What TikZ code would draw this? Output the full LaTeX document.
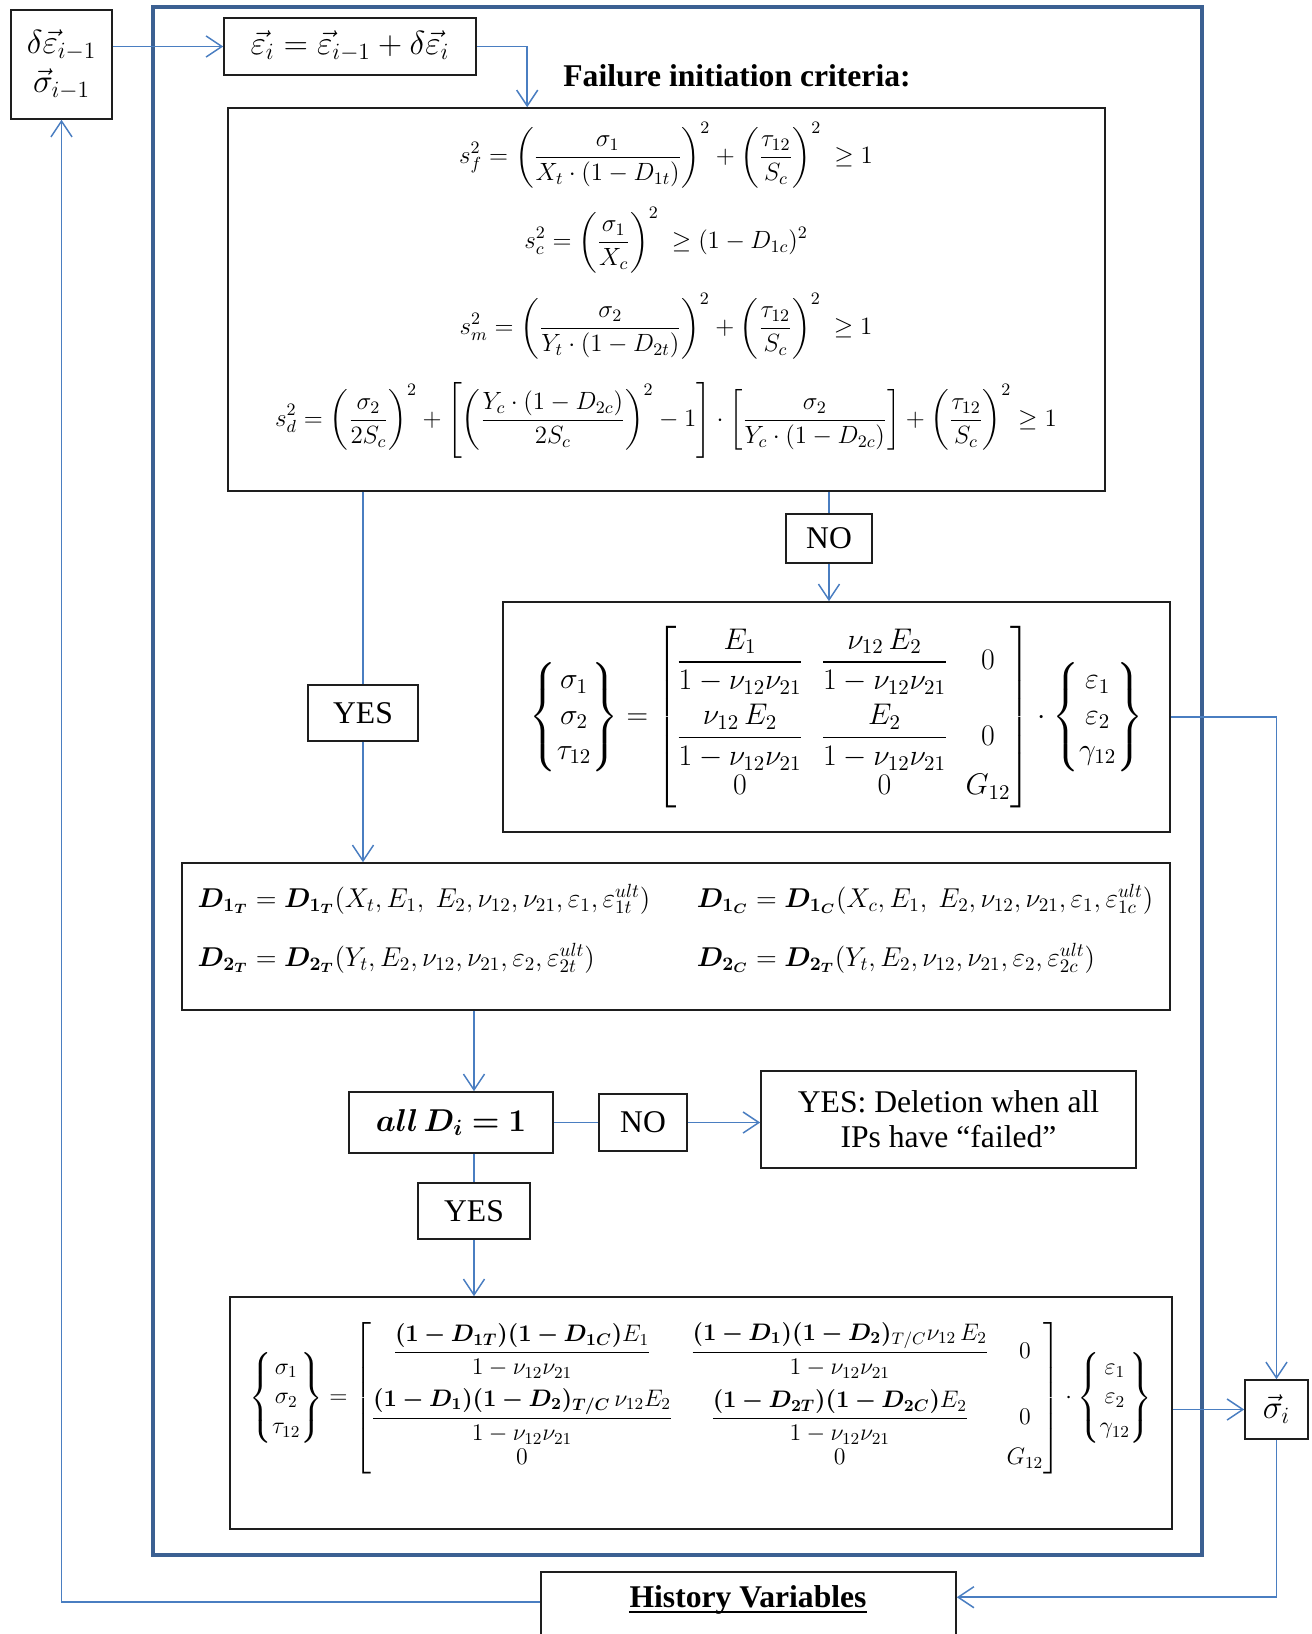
\documentclass[tikz,border=0pt]{standalone}
\usepackage{fix-cm}
\usepackage[no-math]{fontspec}
\setmainfont{Liberation Serif}
\usepackage{amsmath}
\usepackage{bm}
\usetikzlibrary{arrows.meta,calc}
\definecolor{linkblue}{RGB}{74,126,193}
\definecolor{frameblue}{RGB}{59,96,146}
\definecolor{boxline}{RGB}{30,30,30}
\newcommand\stiffden{1-\nu_{12}\nu_{21}}

\begin{document}
\begin{tikzpicture}[x=0.02cm,y=-0.02cm,line width=0.85pt,>={Straight Barb[length=9pt,width=12pt]},
  box/.style={draw=boxline,line width=0.9pt,inner sep=0pt,align=center},
  wh/.style 2 args={minimum width=#1*0.02cm,minimum height=#2*0.02cm},
  link/.style={draw=linkblue,->},
  word/.style={font=\fontsize{18}{20}\selectfont},
  critline/.style={inner sep=0pt,font=\fontsize{14.2}{17}\selectfont}]
\useasboundingbox (0,0) rectangle (1312,1634);
\clip (0,0) rectangle (1312,1634);
% increment loop frame
\draw[frameblue,line width=2.8pt] (153,7) rectangle (1202,1555);
% strain update
\node[box,wh={101}{109},font=\fontsize{19}{22}\selectfont] (prev) at (61.5,64.5)
  {$\delta\vec{\varepsilon}_{i-1}$\\$\vec{\sigma}_{i-1}$};
\node[box,wh={252}{57},font=\fontsize{19}{22}\selectfont] (strain) at (350,46.5)
  {$\vec{\varepsilon}_i=\vec{\varepsilon}_{i-1}+\delta\vec{\varepsilon}_i$};
\node[font=\fontsize{18}{20}\selectfont\bfseries] (crittitle) at (737,76) {Failure initiation criteria:};
% criteria, four modes
\node[box,wh={877}{383}] (crit) at (666.5,299.5) {};
\node[critline] (sf) at (666,155) {$\displaystyle s_f^2=\left(\frac{\sigma_1}{X_t\cdot(1-D_{1t})}\right)^{2}+\left(\frac{\tau_{12}}{S_c}\right)^{2}\ \geq 1$};
\node[critline] (sc) at (666,240) {$\displaystyle s_c^2=\left(\frac{\sigma_1}{X_c}\right)^{2}\ \geq(1-D_{1c})^2$};
\node[critline] (sm) at (666,326) {$\displaystyle s_m^2=\left(\frac{\sigma_2}{Y_t\cdot(1-D_{2t})}\right)^{2}+\left(\frac{\tau_{12}}{S_c}\right)^{2}\ \geq 1$};
\node[critline] (sd) at (666,420) {$\displaystyle s_d^2=\left(\frac{\sigma_2}{2S_c}\right)^{2}+\left[\left(\frac{Y_c\cdot(1-D_{2c})}{2S_c}\right)^{2}-1\right]\cdot\left[\frac{\sigma_2}{Y_c\cdot(1-D_{2c})}\right]+\left(\frac{\tau_{12}}{S_c}\right)^{2}\geq 1$};
% elastic branch
\node[box,word,wh={86}{49}] (no1) at (829,538.5) {NO};
\node[box,wh={667}{230},font=\fontsize{17}{20}\selectfont] (stiff) at (836.5,717)
  {$\displaystyle\begin{Bmatrix}\sigma_1\\\sigma_2\\\tau_{12}\end{Bmatrix}=
   \begin{bmatrix}\dfrac{E_1}{\stiffden}&\dfrac{\nu_{12}\,E_2}{\stiffden}&0\\[14pt]
   \dfrac{\nu_{12}\,E_2}{\stiffden}&\dfrac{E_2}{\stiffden}&0\\[7pt]
   0&0&G_{12}\end{bmatrix}\cdot
   \begin{Bmatrix}\varepsilon_1\\\varepsilon_2\\\gamma_{12}\end{Bmatrix}$};
% damage branch
\node[box,word,wh={110}{56}] (yes1) at (363,713) {YES};
\node[box,wh={988}{147}] (dmg) at (676,936.5) {};
\begin{scope}[every node/.style={anchor=base west,inner sep=0pt,font=\fontsize{15.5}{19}\selectfont}]
  \node (d1t) at (197,907) {$\bm{D_{1_T}}=\bm{D_{1_T}}(X_t,E_1,\ E_2,\nu_{12},\nu_{21},\varepsilon_1,\varepsilon_{1t}^{ult})$};
  \node (d1c) at (696,907) {$\bm{D_{1_C}}=\bm{D_{1_C}}(X_c,E_1,\ E_2,\nu_{12},\nu_{21},\varepsilon_1,\varepsilon_{1c}^{ult})$};
  \node (d2t) at (197,966) {$\bm{D_{2_T}}=\bm{D_{2_T}}(Y_t,E_2,\nu_{12},\nu_{21},\varepsilon_2,\varepsilon_{2t}^{ult})$};
  \node (d2c) at (696,966) {$\bm{D_{2_C}}=\bm{D_{2_T}}(Y_t,E_2,\nu_{12},\nu_{21},\varepsilon_2,\varepsilon_{2c}^{ult})$};
\end{scope}
% deletion check
\node[box,word,wh={204}{61}] (alld) at (451,1122.5) {$\bm{all\,D_i=1}$};
\node[box,word,wh={88}{57}] (no2) at (643,1122.5) {NO};
\node[box,word,wh={375}{97}] (del) at (948.5,1119.5) {YES: Deletion when all\\IPs have ``failed''};
\node[box,word,wh={112}{56}] (yes2) at (474,1211) {YES};
\node[box,wh={942}{232}] (dmgstiff) at (701,1413) {};
\node[inner sep=0pt,font=\fontsize{13.6}{17}\selectfont] (dmgeq) at (701,1398)
  {$\displaystyle\begin{Bmatrix}\sigma_1\\\sigma_2\\\tau_{12}\end{Bmatrix}=
   \begin{bmatrix}\dfrac{\bm{(1-D_{1T})(1-D_{1C})}E_1}{\stiffden}&\dfrac{\bm{(1-D_1)(1-D_2)}_{T/C}\nu_{12}\,E_2}{\stiffden}&0\\[12pt]
   \dfrac{\bm{(1-D_1)(1-D_2)}_{\bm{T/C}}\,\nu_{12}E_2}{\stiffden}&\dfrac{\bm{(1-D_{2T})(1-D_{2C})}E_2}{\stiffden}&0\\[5pt]
   0&0&G_{12}\end{bmatrix}\cdot
   \begin{Bmatrix}\varepsilon_1\\\varepsilon_2\\\gamma_{12}\end{Bmatrix}$};
% stress out, history
\node[box,wh={63}{59},font=\fontsize{19}{22}\selectfont] (sig) at (1276.5,1409.5) {$\vec{\sigma}_i$};
\node[box,wh={415}{108}] (hist) at (748.5,1626) {};
\node[inner sep=0pt,anchor=base,font=\fontsize{18}{20}\selectfont\bfseries] (histlabel) at (748,1607) {History Variables};
\draw[line width=1.6pt] ([yshift=-2.8pt]histlabel.base west) -- ([yshift=-2.8pt]histlabel.base east);
\coordinate (histin) at ($(hist.north east)+(0,26)$);
\coordinate (histout) at ($(hist.north west)+(0,31)$);
% connectors
\draw[link] (prev.east |- strain.west) -- (strain.west);
\draw[link] (strain.east) -| ($(crit.north west)+(300,0)$);
\draw[link,-] (crit.south -| no1.north) -- (no1.north);
\draw[link] (no1.south) -- (no1.south |- stiff.north);
\draw[link,-] (crit.south -| yes1.north) -- (yes1.north);
\draw[link] (yes1.south) -- (yes1.south |- dmg.north);
\draw[link] (dmg.south -| yes2.north) -- (alld.north -| yes2.north);
\draw[link,-] (alld.east) -- (no2.west);
\draw[link] (no2.east) -- (no2.east -| del.west);
\draw[link,-] (alld.south -| yes2.north) -- (yes2.north);
\draw[link] (yes2.south) -- (yes2.south |- dmgstiff.north);
\draw[link] (stiff.east) -| (sig.north);
\draw[link] (dmgstiff.east |- sig.west) -- (sig.west);
\draw[link] (sig.south) |- (histin);
\draw[link] (histout) -| (prev.south);
\end{tikzpicture}
\end{document}
